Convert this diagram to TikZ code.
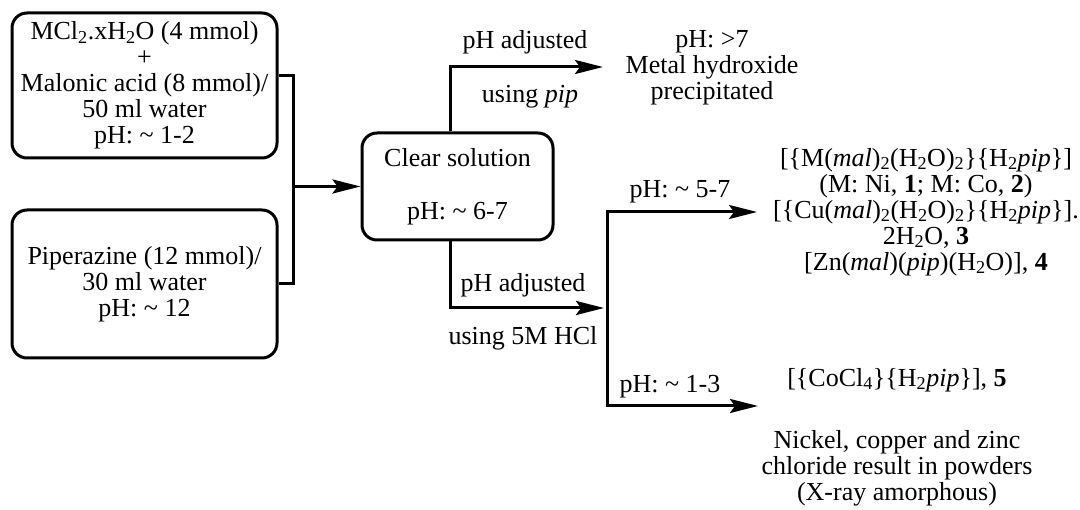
\documentclass[tikz,border=0pt]{standalone}
\usepackage{fontspec}
\setmainfont{Liberation Serif}
\usetikzlibrary{arrows.meta}
\begin{document}
\begin{tikzpicture}[x=1pt,y=-1pt,
  every node/.style={font=\fontsize{26}{26}\selectfont, inner sep=0pt, align=center},
  boxnode/.style={draw, line width=3pt, rounded corners=15pt},
  conn/.style={line width=3pt},
  arr/.style={line width=3pt, -{Stealth[length=28pt,width=14pt,inset=5pt]}},
  darr/.style={line width=3pt, {Stealth[length=28pt,width=14pt,inset=5pt]}-{Stealth[length=28pt,width=14pt,inset=5pt]}}]
\useasboundingbox (0,0) rectangle (1080,510);
% boxes
\node[boxnode, minimum width=265pt, minimum height=145pt] (b1) at (144.5,85.5)
  {MCl\textsubscript{2}.xH\textsubscript{2}O (4 mmol)\\+\\Malonic acid (8 mmol)/\\50 ml water\\pH: \textasciitilde{} 1-2};
\node[boxnode, minimum width=265pt, minimum height=148pt] (b2) at (144.5,284)
  {Piperazine (12 mmol)/\\30 ml water\\pH: \textasciitilde{} 12};
\node[boxnode, minimum width=191pt, minimum height=107pt] (cs) at (457.5,186.5)
  {Clear solution\\[27pt]pH: \textasciitilde{} 6-7};
% merge connector
\coordinate (m) at (293,186.5);
\draw[conn] ([yshift=9.5pt]b1.east) -| (m) |- (b2.east);
\draw[arr] (m) -- (m -| cs.west);
% upper branch
\coordinate (t1) at (603,67);
\draw[arr] ([xshift=-7.5pt]cs.north) |- (t1);
\node (l1) at (525,42) {pH adjusted};
\node (l2) at (530,97) {using \textit{pip}};
\node (r1) at (712,68) {pH: >7\\Metal hydroxide\\precipitated};
% lower branch
\coordinate (t2) at (604,308);
\draw[arr] ([xshift=-7.5pt]cs.south) |- (t2);
\node (l3) at (523,285) {pH adjusted};
\node (l4) at (523,338) {using 5M HCl};
\coordinate (c1) at (607,212);
\coordinate (c2) at (607,406);
\coordinate (t3) at (757,212);
\coordinate (t4) at (758,406);
\draw[darr] (t3) -- (c1) -- (c2) -- (t4);
\node (l5) at (680,192) {pH: \textasciitilde{} 5-7};
\node (l6) at (670,387) {pH: \textasciitilde{} 1-3};
% results
\node (r2) at (926,212) {{[}\{M(\textit{mal})\textsubscript{2}(H\textsubscript{2}O)\textsubscript{2}\}\{H\textsubscript{2}\textit{pip}\}]\\
  (M: Ni, \textbf{1}; M: Co, \textbf{2})\\
  {[}\{Cu(\textit{mal})\textsubscript{2}(H\textsubscript{2}O)\textsubscript{2}\}\{H\textsubscript{2}\textit{pip}\}].\\
  2H\textsubscript{2}O, \textbf{3}\\
  {[}Zn(\textit{mal})(\textit{pip})(H\textsubscript{2}O)], \textbf{4}};
\node (r3) at (897,380) {{[}\{CoCl\textsubscript{4}\}\{H\textsubscript{2}\textit{pip}\}], \textbf{5}};
\node (r4) at (897,468) {Nickel, copper and zinc\\chloride result in powders\\(X-ray amorphous)};
\end{tikzpicture}
\end{document}
